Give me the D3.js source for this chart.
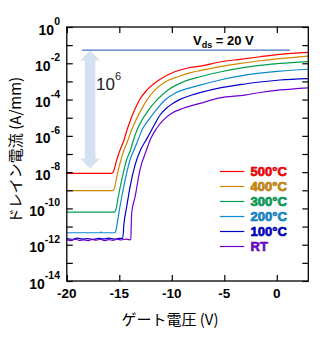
<!DOCTYPE html>
<html><head><meta charset="utf-8">
<script src="https://cdn.jsdelivr.net/npm/d3@7"></script>
<style>
html,body{margin:0;padding:0;background:#fff;}
svg{display:block;}
</style></head><body>
<svg id="chart" width="334" height="337"></svg>
<script>
// Transfer characteristics: drain current vs gate voltage at several temperatures
const temps  = ["500°C", "400°C", "300°C", "200°C", "100°C", "RT"];
const colors = ["#ff0000", "#cc8800", "#00a050", "#0a8ad0", "#0000c8", "#7000d0"];

// [gate voltage (V), log10 drain current (A/mm)]
const i500 = [[-20,-8.07],[-15.70,-8.07],[-15.57,-7.98],[-15.25,-7.33],[-14.93,-6.78],[-14.55,-6.23],
  [-14.27,-5.68],[-13.93,-5.13],[-13.55,-4.58],[-13.08,-4.02],[-12.36,-3.47],[-11.22,-2.92],
  [-9.79,-2.48],[-8.46,-2.26],[-7.31,-2.16],[-5.41,-1.93],[-3.50,-1.78],[-1.60,-1.64],[0.30,-1.51],[2.97,-1.40]];
const i400 = [[-20,-9.02],[-15.60,-9.02],[-15.46,-8.88],[-15.25,-8.27],[-14.93,-7.51],[-14.55,-6.78],
  [-14.17,-6.23],[-13.84,-5.68],[-13.41,-5.13],[-12.93,-4.58],[-12.36,-4.02],[-11.60,-3.47],
  [-10.65,-3.03],[-9.41,-2.74],[-8.10,-2.50],[-7.31,-2.40],[-5.41,-2.18],[-3.50,-2.01],[-1.60,-1.86],[0.30,-1.74],[2.97,-1.60]];
const i300 = [[-20,-10.20],[-15.46,-10.20],[-15.34,-10.09],[-15.10,-9.37],[-14.77,-8.43],[-14.31,-7.33],
  [-13.93,-6.78],[-13.65,-6.23],[-13.31,-5.68],[-12.84,-5.13],[-12.22,-4.58],[-11.41,-4.02],
  [-10.36,-3.47],[-8.93,-3.03],[-7.31,-2.74],[-5.41,-2.48],[-3.03,-2.23],[-1.60,-2.12],[0.30,-2.01],[2.97,-1.91]];
const i200 = [[-20,-11.34],[-16.80,-11.34],[-16.74,-11.29],[-16.68,-11.34],[-15.41,-11.34],[-15.27,-11.08],
  [-15.10,-10.47],[-14.77,-9.37],[-14.30,-8.05],[-13.98,-7.33],[-13.60,-6.78],[-13.22,-6.23],
  [-12.84,-5.68],[-12.22,-5.13],[-11.50,-4.58],[-10.65,-4.02],[-9.70,-3.65],[-8.43,-3.38],
  [-7.31,-3.20],[-5.41,-2.92],[-3.03,-2.65],[-1.60,-2.54],[0.30,-2.43],[2.97,-2.33]];
const i100 = [[-20,-11.66],[-19.5,-11.70],[-19,-11.64],[-18.5,-11.69],[-18,-11.66],[-17.5,-11.71],
  [-17,-11.65],[-16.5,-11.68],[-16,-11.64],[-15.5,-11.69],[-15,-11.65],[-14.68,-11.66],
  [-14.55,-10.81],[-14.30,-9.92],[-13.98,-8.82],[-13.50,-7.61],[-12.98,-6.78],[-12.36,-6.14],
  [-11.76,-5.50],[-11.12,-4.85],[-10.33,-4.39],[-9.22,-3.99],[-8.10,-3.75],[-7.31,-3.62],
  [-5.41,-3.36],[-3.03,-3.14],[-1.60,-3.03],[0.30,-2.92],[2.97,-2.84]];
const iRT = [[-20,-11.72],[-19.6,-11.78],[-19.2,-11.70],[-18.8,-11.76],[-18.4,-11.73],[-18,-11.78],
  [-17.6,-11.71],[-17.2,-11.75],[-16.8,-11.70],[-16.4,-11.77],[-16,-11.72],[-15.6,-11.76],
  [-15.2,-11.70],[-14.8,-11.74],[-14.4,-11.69],[-14.0,-11.73],[-13.91,-11.71],
  [-13.82,-10.25],[-13.50,-9.37],[-13.03,-7.88],[-12.41,-6.78],[-11.98,-6.12],[-11.44,-5.58],
  [-10.81,-5.13],[-10.01,-4.76],[-8.90,-4.48],[-7.31,-4.21],[-5.41,-3.91],[-3.03,-3.75],
  [-1.60,-3.61],[0.30,-3.47],[2.97,-3.35]];
const series = [i500, i400, i300, i200, i100, iRT];

const xTicks = [-20, -15, -10, -5, 0];
const yExps  = [0, -2, -4, -6, -8, -10, -12, -14];
const vdsLabel = "20 V";
const onLevelLog = -1.27;          // reference line for on-current
const arrowSpan = [-1.3, -7.8];    // on/off ratio arrow, log10 A/mm
const arrowV = -17.78;
const ratioExp = 6;

const m = {left: 66.8, top: 27, right: 308.3, bottom: 281};
const x = d3.scaleLinear().domain([-20, 3]).range([m.left, m.right]);
const y = d3.scaleLog().domain([1e-14, 1]).range([m.bottom, m.top]);
const decades = d3.range(-14, 1).map(e => Math.pow(10, e));

const svg = d3.select("#chart");
const bold = "'Liberation Sans', Arial, sans-serif";
const jp = "'Noto Sans CJK JP', sans-serif";

svg.append("defs").append("clipPath").attr("id", "plot")
  .append("rect").attr("x", m.left).attr("y", m.top)
  .attr("width", m.right - m.left).attr("height", m.bottom - m.top);

// on/off ratio arrow
{
  const cx = x(arrowV), yt = y(Math.pow(10, arrowSpan[0])), yb = y(Math.pow(10, arrowSpan[1]));
  const hw = 10, sw = 5.3, hl = 10;
  const pts = [[cx, yt], [cx + hw, yt + hl], [cx + sw, yt + hl], [cx + sw, yb - hl], [cx + hw, yb - hl],
               [cx, yb], [cx - hw, yb - hl], [cx - sw, yb - hl], [cx - sw, yt + hl], [cx - hw, yt + hl]];
  svg.append("path").attr("d", "M" + pts.join("L") + "Z").attr("fill", "#d5e0f1");
  const t = svg.append("text").attr("x", cx + 6).attr("y", 89.5)
    .attr("font-family", bold).attr("font-size", 17).attr("fill", "#222");
  t.append("tspan").text("10");
  t.append("tspan").attr("dy", -9.5).attr("font-size", 11).text(ratioExp);
}

// on-current reference line
svg.append("line")
  .attr("x1", x(-18.55)).attr("x2", x(1.26))
  .attr("y1", y(Math.pow(10, onLevelLog))).attr("y2", y(Math.pow(10, onLevelLog)))
  .attr("stroke", "#4472c4").attr("stroke-width", 1.2);

// curves
const line = d3.line().x(d => x(d[0])).y(d => y(Math.pow(10, d[1]))).curve(d3.curveMonotoneX);
const g = svg.append("g").attr("clip-path", "url(#plot)");
series.forEach((s, i) => {
  g.append("path").attr("d", line(s)).attr("fill", "none")
    .attr("stroke", colors[i]).attr("stroke-width", 1.2);
});

// axes with inward ticks on all four sides
function styleAxis(sel) {
  sel.select(".domain").remove();
  sel.selectAll(".tick line").attr("stroke", "#000").attr("stroke-width", 1.2);
}
svg.append("g").attr("transform", `translate(${m.left},0)`)
  .call(d3.axisLeft(y).tickValues(decades).tickSize(-6).tickFormat("")).call(styleAxis);
svg.append("g").attr("transform", `translate(${m.right},0)`)
  .call(d3.axisRight(y).tickValues(decades).tickSize(-6).tickFormat("")).call(styleAxis);
svg.append("g").attr("transform", `translate(0,${m.bottom})`)
  .call(d3.axisBottom(x).tickValues(xTicks).tickSize(-6).tickFormat("")).call(styleAxis);
svg.append("g").attr("transform", `translate(0,${m.top})`)
  .call(d3.axisTop(x).tickValues(xTicks).tickSize(-6).tickFormat("")).call(styleAxis);

svg.append("rect").attr("x", m.left).attr("y", m.top)
  .attr("width", m.right - m.left).attr("height", m.bottom - m.top)
  .attr("fill", "none").attr("stroke", "#000").attr("stroke-width", 1.3);

// y tick labels 10^n
yExps.forEach(e => {
  const t = svg.append("text").attr("x", 60).attr("y", y(Math.pow(10, e)) + 7.5)
    .attr("text-anchor", "end").attr("font-family", bold).attr("font-weight", "bold")
    .attr("font-size", 14).attr("fill", "#000");
  t.append("tspan").text("10");
  t.append("tspan").attr("dy", -9.5).attr("font-size", 10.5).text(e);
});

// x tick labels
xTicks.forEach(v => {
  svg.append("text").attr("x", x(v)).attr("y", 297.5).attr("text-anchor", "middle")
    .attr("font-family", bold).attr("font-weight", "bold").attr("font-size", 13.5)
    .attr("fill", "#000").text(v);
});

// axis titles
svg.append("text").attr("x", 170).attr("y", 325).attr("text-anchor", "middle")
  .attr("font-family", jp).attr("font-size", 15).attr("fill", "#000").text("ゲート電圧 (V)");
svg.append("text").attr("transform", "translate(21,150) rotate(-90)").attr("text-anchor", "middle")
  .attr("font-family", jp).attr("font-size", 15).attr("fill", "#000").text("ドレイン電流 (A/mm)");

// Vds annotation
{
  const t = svg.append("text").attr("x", 193).attr("y", 45)
    .attr("font-family", bold).attr("font-weight", "bold").attr("font-size", 13).attr("fill", "#000");
  t.append("tspan").text("V");
  t.append("tspan").attr("dy", 3.3).attr("font-size", 9).text("ds");
  t.append("tspan").attr("dy", -3.3).text(" = " + vdsLabel);
}

// legend
temps.forEach((lab, i) => {
  const ly = 171.5 + i * 15;
  svg.append("line").attr("x1", 220).attr("x2", 244.3).attr("y1", ly).attr("y2", ly)
    .attr("stroke", colors[i]).attr("stroke-width", 1.2);
  svg.append("text").attr("x", 250.5).attr("y", ly + 4.8)
    .attr("font-family", bold).attr("font-weight", "bold").attr("font-size", 13)
    .attr("fill", colors[i]).attr("stroke", d3.color(colors[i]).darker(1.6))
    .attr("stroke-width", 0.6).attr("paint-order", "stroke").text(lab);
});
</script>
</body></html>
